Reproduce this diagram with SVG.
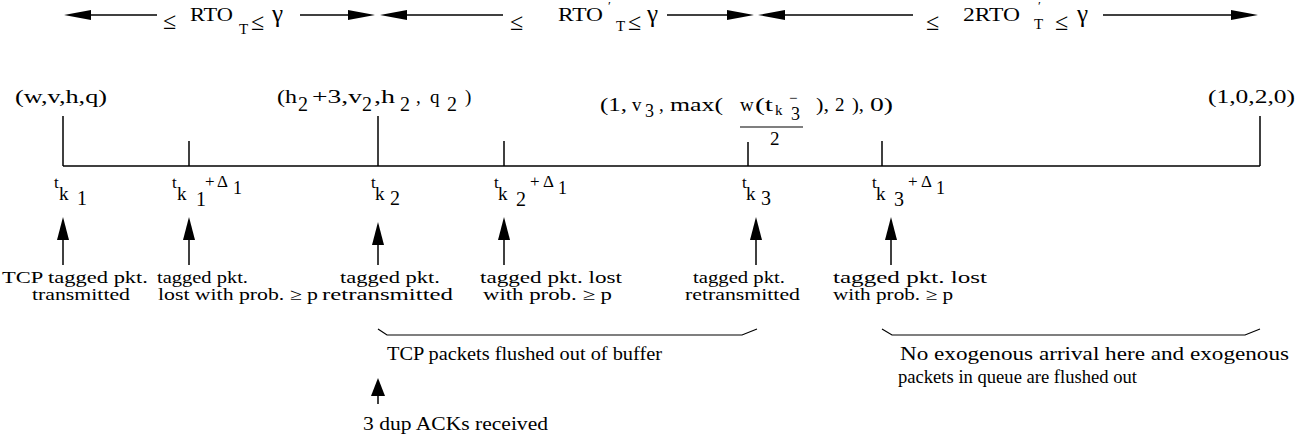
<svg xmlns="http://www.w3.org/2000/svg" width="1316" height="441" viewBox="0 0 1316 441">
<style>
text{font-family:"Liberation Serif","Times New Roman",serif;fill:#000;}
.f17{font-size:17px}
.f18{font-size:18px}
.f19{font-size:19px}
.f20{font-size:20px}
.f15{font-size:15px}
.f13{font-size:13px}
.ev{font-size:16.5px}
.le{font-size:24px}
.ga{font-size:25px}
.ln{stroke:#000;stroke-width:1.5;fill:none}
.th{stroke:#000;stroke-width:1.2;fill:none}
</style>
<defs>
<marker id="hh" markerUnits="userSpaceOnUse" viewBox="0 0 27 10" refX="0" refY="5" markerWidth="27" markerHeight="10" orient="auto"><path d="M0,0 L27,5 L0,10 z" fill="#000"/></marker>
<marker id="vh" markerUnits="userSpaceOnUse" viewBox="0 0 23 12" refX="0" refY="6" markerWidth="23" markerHeight="12" orient="auto"><path d="M0,0 L23,6 L0,12 z" fill="#000"/></marker>
<marker id="vh2" markerUnits="userSpaceOnUse" viewBox="0 0 18 14" refX="0" refY="7" markerWidth="18" markerHeight="14" orient="auto"><path d="M0,0 L18,7 L0,14 z" fill="#000"/></marker>
</defs>

<g id="connectors">
  <line class="ln" x1="157" y1="15" x2="91" y2="15" marker-end="url(#hh)"/>
  <line class="ln" x1="300" y1="15" x2="348" y2="15" marker-end="url(#hh)"/>
  <line class="ln" x1="503" y1="15" x2="407" y2="15" marker-end="url(#hh)"/>
  <line class="ln" x1="667" y1="15" x2="727" y2="15" marker-end="url(#hh)"/>
  <line class="ln" x1="913" y1="15" x2="785" y2="15" marker-end="url(#hh)"/>
  <line class="ln" x1="1103" y1="15" x2="1231" y2="15" marker-end="url(#hh)"/>
  <line class="ln" x1="63" y1="166" x2="1260" y2="166"/>
  <line class="ln" x1="63" y1="116" x2="63" y2="166"/>
  <line class="ln" x1="189" y1="141" x2="189" y2="166"/>
  <line class="ln" x1="378" y1="116" x2="378" y2="166"/>
  <line class="ln" x1="504" y1="141" x2="504" y2="166"/>
  <line class="ln" x1="748" y1="142" x2="748" y2="166"/>
  <line class="ln" x1="882" y1="141" x2="882" y2="166"/>
  <line class="ln" x1="1260" y1="116" x2="1260" y2="166"/>
  <line class="ln" x1="63" y1="265" x2="63" y2="240" marker-end="url(#vh)"/>
  <line class="ln" x1="189" y1="265" x2="189" y2="240" marker-end="url(#vh)"/>
  <line class="ln" x1="378" y1="265" x2="378" y2="245" marker-end="url(#vh)"/>
  <line class="ln" x1="504" y1="265" x2="504" y2="240" marker-end="url(#vh)"/>
  <line class="ln" x1="756" y1="265" x2="756" y2="240" marker-end="url(#vh)"/>
  <line class="ln" x1="891" y1="265" x2="891" y2="240" marker-end="url(#vh)"/>
  <line class="ln" x1="378" y1="404" x2="378" y2="396" marker-end="url(#vh2)"/>
  <path class="th" d="M378,329 L387,335 L742,335 L757,329"/>
  <path class="th" d="M882,329 L892,335 L1245,335 L1260,329"/>
</g>

<g id="interval1">
  <text class="le" x="163" y="29">≤</text>
  <text class="f18" x="190" y="21" textLength="43" lengthAdjust="spacingAndGlyphs">RTO</text>
  <text class="f15" x="239" y="34">T</text>
  <text class="le" x="251" y="30">≤</text>
  <text class="ga" x="272" y="22">γ</text>
</g>
<g id="interval2">
  <text class="le" x="510" y="30">≤</text>
  <text class="f18" x="558" y="21" textLength="45" lengthAdjust="spacingAndGlyphs">RTO</text>
  <text class="f13" x="608" y="10">′</text>
  <text class="f15" x="616" y="31">T</text>
  <text class="le" x="628" y="30">≤</text>
  <text class="ga" x="647" y="22">γ</text>
</g>
<g id="interval3">
  <text class="le" x="926" y="30">≤</text>
  <text class="f18" x="963" y="21" textLength="57" lengthAdjust="spacingAndGlyphs">2RTO</text>
  <text class="f13" x="1038" y="10">′</text>
  <text class="f15" x="1034" y="29">T</text>
  <text class="le" x="1055" y="30">≤</text>
  <text class="ga" x="1077" y="22">γ</text>
</g>

<g id="state1">
  <text class="f19" x="15" y="103" textLength="92" lengthAdjust="spacingAndGlyphs">(w,v,h,q)</text>
</g>
<g id="state2">
  <text class="f19" x="277" y="103" textLength="20" lengthAdjust="spacingAndGlyphs">(h</text>
  <text class="f20" x="298" y="111">2</text>
  <text class="f19" x="312" y="103" textLength="50" lengthAdjust="spacingAndGlyphs">+3,v</text>
  <text class="f20" x="362" y="111">2</text>
  <text class="f19" x="374" y="103" textLength="21" lengthAdjust="spacingAndGlyphs">,h</text>
  <text class="f20" x="400" y="111">2</text>
  <text class="f19" x="416" y="103">,</text>
  <text class="f19" x="430" y="103">q</text>
  <text class="f20" x="447" y="111">2</text>
  <text class="f19" x="465" y="103">)</text>
</g>
<g id="state3">
  <text class="f19" x="600" y="111" textLength="27" lengthAdjust="spacingAndGlyphs">(1,</text>
  <text class="f19" x="632" y="111">v</text>
  <text class="f18" x="645" y="117">3</text>
  <text class="f19" x="659" y="111">,</text>
  <text class="f19" x="670" y="111" textLength="53" lengthAdjust="spacingAndGlyphs">max(</text>
  <text class="f19" x="740" y="111">w</text>
  <text class="f19" x="755" y="111" textLength="18" lengthAdjust="spacingAndGlyphs">(t</text>
  <text class="f15" x="775" y="115">k</text>
  <text class="f15" x="789" y="103">−</text>
  <text class="f18" x="791" y="120">3</text>
  <line class="th" x1="740" y1="127" x2="803" y2="127"/>
  <text class="f19" x="770" y="145">2</text>
  <text class="f19" x="816" y="111" textLength="13" lengthAdjust="spacingAndGlyphs">),</text>
  <text class="f19" x="835" y="111">2</text>
  <text class="f19" x="852" y="111" textLength="12" lengthAdjust="spacingAndGlyphs">),</text>
  <text class="f19" x="870" y="111" textLength="23" lengthAdjust="spacingAndGlyphs">0)</text>
</g>
<g id="state4">
  <text class="f19" x="1208" y="103" textLength="87" lengthAdjust="spacingAndGlyphs">(1,0,2,0)</text>
</g>

<g id="time1">
  <text class="f17" x="54" y="188">t</text>
  <text class="f19" x="59" y="200">k</text>
  <text class="f20" x="77" y="205">1</text>
</g>
<g id="time2">
  <text class="f17" x="172" y="188">t</text>
  <text class="f19" x="177" y="200">k</text>
  <text class="f20" x="196" y="206">1</text>
  <text class="f17" x="205" y="187">+</text>
  <text class="f17" x="217" y="187">Δ</text>
  <text class="f18" x="233" y="194">1</text>
</g>
<g id="time3">
  <text class="f17" x="371" y="188">t</text>
  <text class="f19" x="375" y="200">k</text>
  <text class="f20" x="390" y="205">2</text>
</g>
<g id="time4">
  <text class="f17" x="494" y="188">t</text>
  <text class="f19" x="498" y="200">k</text>
  <text class="f20" x="516" y="206">2</text>
  <text class="f17" x="530" y="187">+</text>
  <text class="f17" x="543" y="187">Δ</text>
  <text class="f18" x="558" y="194">1</text>
</g>
<g id="time5">
  <text class="f17" x="742" y="188">t</text>
  <text class="f19" x="746" y="200">k</text>
  <text class="f20" x="761" y="205">3</text>
</g>
<g id="time6">
  <text class="f17" x="872" y="188">t</text>
  <text class="f19" x="876" y="200">k</text>
  <text class="f20" x="894" y="206">3</text>
  <text class="f17" x="908" y="187">+</text>
  <text class="f17" x="921" y="187">Δ</text>
  <text class="f18" x="936" y="194">1</text>
</g>

<g id="event1">
  <text class="ev" x="2" y="283" textLength="146" lengthAdjust="spacingAndGlyphs">TCP tagged pkt.</text>
  <text class="ev" x="32" y="300" textLength="98" lengthAdjust="spacingAndGlyphs">transmitted</text>
</g>
<g id="event2">
  <text class="ev" x="157" y="283" textLength="91" lengthAdjust="spacingAndGlyphs">tagged  pkt.</text>
  <text class="ev" x="158" y="300" textLength="160" lengthAdjust="spacingAndGlyphs">lost  with  prob. ≥ p</text>
</g>
<g id="event3">
  <text class="ev" x="340" y="283" textLength="100" lengthAdjust="spacingAndGlyphs">tagged  pkt.</text>
  <text class="ev" x="322" y="300" textLength="131" lengthAdjust="spacingAndGlyphs">retransmitted</text>
</g>
<g id="event4">
  <text class="ev" x="480" y="283" textLength="142" lengthAdjust="spacingAndGlyphs">tagged  pkt. lost</text>
  <text class="ev" x="483" y="300" textLength="129" lengthAdjust="spacingAndGlyphs">with  prob. ≥ p</text>
</g>
<g id="event5">
  <text class="ev" x="693" y="283" textLength="92" lengthAdjust="spacingAndGlyphs">tagged  pkt.</text>
  <text class="ev" x="685" y="300" textLength="115" lengthAdjust="spacingAndGlyphs">retransmitted</text>
</g>
<g id="event6">
  <text class="ev" x="833" y="283" textLength="154" lengthAdjust="spacingAndGlyphs">tagged  pkt.  lost</text>
  <text class="ev" x="833" y="300" textLength="120" lengthAdjust="spacingAndGlyphs">with prob. ≥ p</text>
</g>

<g id="flush-note">
  <text class="f18" x="387" y="360" textLength="275" lengthAdjust="spacingAndGlyphs">TCP  packets  flushed  out  of buffer</text>
</g>
<g id="dupack-note">
  <text class="f18" x="363" y="430" textLength="185" lengthAdjust="spacingAndGlyphs">3  dup  ACKs  received</text>
</g>
<g id="exo-note">
  <text class="f18" x="900" y="360" textLength="389" lengthAdjust="spacingAndGlyphs">No  exogenous  arrival  here and exogenous</text>
  <text class="f18" x="898" y="383" textLength="239" lengthAdjust="spacingAndGlyphs">packets  in  queue  are  flushed  out</text>
</g>
</svg>
